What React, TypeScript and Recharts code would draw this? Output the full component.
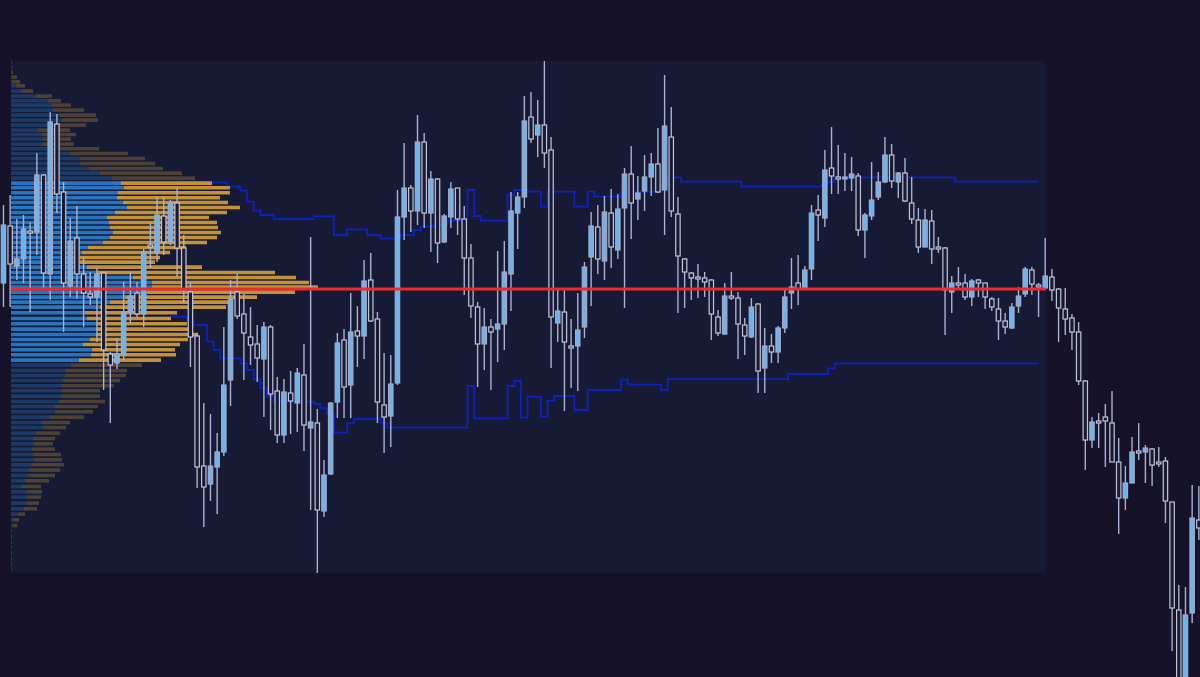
import { ComposedChart, BarChart, Bar, Line, XAxis, YAxis, ReferenceArea, ReferenceLine, Cell } from "recharts";

const W = 1200;
const H = 677;

// candle OHLC, one entry per bar
const opens = [
  517, 574, 534, 541, 569, 568, 625, 526, 676, 608,
  514, 562, 526, 506, 503, 527, 446, 437, 445, 488,
  507, 486, 555, 547, 584, 558, 597, 552, 508, 464,
  334, 316, 333, 348, 420, 508, 486, 463, 456, 441,
  473, 409, 365, 407, 397, 425, 372, 377, 289, 326,
  398, 460, 415, 469, 464, 520, 481, 395, 384, 417,
  583, 612, 589, 658, 587, 621, 558, 583, 612, 581,
  542, 493, 456, 473, 471, 476, 526, 587, 603, 683,
  665, 675, 650, 477, 488, 454, 454, 473, 543, 573,
  539, 587, 550, 592, 626, 601, 609, 623, 636, 610,
  663, 586, 541, 527, 523, 522, 520, 483, 466, 504,
  502, 475, 463, 496, 432, 454, 448, 472, 507, 517,
  511, 531, 590, 582, 632, 623, 622, 622, 624, 570,
  584, 603, 618, 645, 618, 627, 597, 580, 553, 579,
  553, 552, 508, 517, 517, 503, 520, 517, 501, 491,
  479, 472, 494, 506, 530, 515, 512, 523, 511, 491,
  482, 468, 419, 360, 379, 383, 377, 338, 302, 317,
  349, 348, 351, 338, 339, 298, 190, 90, 187, 280,
];
const closes = [
  575, 536, 541, 571, 567, 625, 527, 678, 606, 517,
  559, 526, 507, 503, 526, 450, 435, 446, 488, 504,
  486, 548, 554, 585, 558, 597, 552, 511, 463, 333,
  313, 334, 348, 415, 501, 484, 467, 455, 442, 473,
  406, 365, 408, 399, 427, 375, 378, 290, 325, 397,
  457, 413, 468, 464, 519, 479, 398, 383, 416, 583,
  612, 589, 658, 587, 621, 557, 584, 611, 581, 542,
  494, 456, 473, 468, 476, 528, 589, 603, 679, 661,
  675, 647, 483, 489, 458, 453, 470, 533, 574, 541,
  588, 553, 591, 626, 597, 607, 623, 636, 608, 674,
  589, 544, 528, 522, 522, 518, 486, 467, 504, 503,
  476, 464, 493, 429, 454, 448, 472, 503, 513, 511,
  530, 587, 585, 630, 624, 622, 623, 626, 570, 585,
  600, 618, 645, 619, 627, 599, 581, 553, 580, 551,
  552, 510, 517, 516, 503, 519, 517, 503, 493, 479,
  473, 493, 504, 531, 516, 513, 524, 510, 492, 481,
  468, 419, 360, 378, 378, 379, 338, 302, 317, 348,
  348, 352, 335, 337, 299, 192, 100, 185, 282, 272,
];
const highs = [
  595, 605, 581, 585, 578, 647, 626, 688, 686, 618,
  582, 594, 542, 528, 532, 529, 448, 462, 518, 528,
  518, 551, 577, 603, 603, 600, 612, 565, 518, 467,
  397, 386, 367, 473, 520, 526, 506, 493, 475, 478,
  475, 423, 421, 429, 432, 456, 563, 391, 340, 398,
  467, 471, 507, 494, 540, 547, 488, 447, 445, 610,
  657, 615, 685, 667, 629, 622, 586, 618, 612, 594,
  556, 498, 492, 481, 549, 559, 608, 608, 704, 708,
  700, 739, 663, 512, 512, 481, 507, 538, 588, 595,
  604, 611, 606, 632, 654, 624, 645, 647, 672, 725,
  693, 603, 542, 528, 536, 528, 521, 490, 517, 528,
  508, 482, 502, 497, 472, 466, 474, 510, 542, 545,
  534, 595, 605, 650, 673, 655, 647, 643, 627, 587,
  638, 628, 663, 656, 628, 642, 623, 592, 591, 590,
  563, 553, 524, 533, 526, 521, 521, 517, 503, 502,
  487, 497, 513, 533, 533, 517, 562, 531, 512, 512,
  486, 478, 420, 383, 387, 396, 409, 362, 334, 363,
  377, 355, 352, 353, 343, 298, 215, 213, 315, 314,
];
const lows = [
  493, 493, 520, 517, 488, 545, 510, 500, 587, 468,
  503, 501, 473, 495, 458, 410, 377, 431, 440, 477,
  483, 473, 532, 538, 545, 555, 523, 497, 433, 312,
  273, 299, 286, 344, 394, 481, 420, 435, 418, 383,
  370, 357, 357, 366, 368, 349, 290, 227, 283, 325,
  382, 382, 382, 433, 441, 478, 377, 347, 353, 415,
  560, 568, 575, 572, 548, 537, 557, 572, 565, 505,
  482, 413, 430, 410, 438, 450, 489, 551, 592, 657,
  643, 632, 432, 458, 389, 412, 409, 462, 494, 526,
  520, 532, 541, 492, 561, 580, 589, 604, 607, 565,
  583, 487, 492, 500, 502, 503, 460, 464, 465, 500,
  441, 445, 462, 407, 407, 437, 437, 467, 491, 495,
  510, 520, 559, 573, 606, 606, 609, 609, 564, 542,
  580, 600, 617, 612, 602, 598, 576, 547, 553, 536,
  547, 465, 487, 510, 500, 494, 503, 491, 489, 460,
  466, 471, 487, 503, 505, 483, 510, 499, 458, 465,
  450, 415, 330, 352, 352, 333, 338, 266, 290, 317,
  340, 317, 314, 333, 277, 149, 80, 80, 177, 260,
];

// developing value area high / low: [first bar, level]
const vahSteps = [
  [26, 617.5], [34, 613.3], [36, 609.3], [37, 598.3], [38, 589.3], [39, 585], [41, 581],
  [47, 583.7], [50, 565], [52, 570.7], [55, 565], [57, 561.5], [60, 565], [62, 570],
  [63, 573.3], [65, 575], [67, 579.3], [69, 580.7], [70, 610], [71, 584], [72, 579.3],
  [76, 605], [77, 610], [79, 608.3], [81, 593.3], [82, 608.3], [86, 593.3], [88, 608.3],
  [89, 603.3], [93, 608.3], [99, 615], [100, 622.7], [102, 618.3], [111, 613.3],
  [123, 615.7], [124, 618.3], [125, 622.7], [143, 618.3],
];
const valSteps = [
  [25, 483.3], [28, 480], [29, 475], [31, 458.3], [32, 450], [33, 441.7], [36, 436.7],
  [37, 430], [38, 420.7], [39, 411.7], [40, 404], [41, 398.3], [47, 396], [48, 391.7],
  [49, 385.7], [50, 367.3], [52, 376.7], [53, 381], [57, 377.3], [58, 372.3], [70, 414],
  [71, 381.7], [76, 414], [77, 419], [78, 382.3], [79, 403.3], [81, 383.3], [82, 399.3],
  [83, 404], [86, 390], [88, 410], [93, 420.5], [94, 415.3], [99, 410], [100, 420.8],
  [118, 426], [124, 431.7], [125, 436.7],
];
const stepEnd = 155;

// session box and point of control
const sessionStart = 1.15;
const sessionEnd = 156.1;
const sessionHigh = 739;
const sessionLow = 227;
const poc = 511;
const vaHigh = 618.3;
const vaLow = 436.7;

// volume profile rows (price level, buy volume, sell volume)
const profilePrice = [
  737.7, 732.7, 727.7, 722.7, 718, 714, 708.7, 703.7, 699, 694.7,
  689.7, 684.7, 679.7, 674.7, 669.7, 665.3, 660.7, 655.7, 651, 646.3,
  641.3, 636.3, 631.3, 626.7, 621.7, 616.7, 612, 607, 602, 597.3,
  592.3, 587.3, 582.3, 577.3, 572.3, 567.3, 562.3, 557.3, 552.3, 547.3,
  542.3, 537.7, 532.7, 527.3, 522.3, 517.3, 512.7, 507.7, 502.7, 497.7,
  492.7, 487, 481.3, 476, 470.7, 465.3, 460.3, 455.3, 450, 445,
  439.7, 434.7, 429.3, 424.3, 419.3, 414, 409, 403.7, 398.3, 393.3,
  388, 382.7, 377.3, 372.3, 366.7, 361.3, 356, 350.7, 345.3, 340,
  335, 329.7, 324.3, 319, 313.3, 308, 302.7, 296.7, 291, 285.7,
  280, 274.3, 269, 263.3, 257.7, 252.7, 246.7, 241, 236, 230.7,
];
const profileBuy = [
  1, 1, 1, 1, 1, 5, 10, 25, 37, 41,
  42, 49, 51, 47, 27, 31, 32, 31, 39, 59,
  69, 69, 78, 89, 101, 110, 113, 107, 106, 112,
  116, 104, 96, 98, 99, 102, 99, 92, 77, 71,
  69, 69, 76, 86, 122, 141, 141, 136, 114, 99,
  89, 74, 76, 86, 86, 86, 79, 72, 81, 80,
  68, 60, 55, 54, 51, 50, 51, 50, 48, 44,
  44, 39, 31, 32, 25, 22, 23, 21, 22, 23,
  20, 18, 17, 14, 10, 16, 16, 16, 13, 7,
  2, 2, 1, 1, 1, 1, 1, 1, 1, 1,
];
const profileSell = [
  0, 0, 1, 5, 8, 9, 12, 16, 13, 19,
  31, 36, 36, 28, 32, 34, 28, 32, 49, 58,
  65, 75, 74, 82, 83, 91, 106, 112, 103, 105,
  113, 112, 102, 108, 108, 108, 107, 104, 98, 88,
  80, 75, 115, 178, 163, 157, 166, 148, 132, 123,
  126, 92, 84, 90, 93, 101, 98, 97, 83, 85,
  82, 71, 61, 61, 58, 53, 38, 39, 46, 43,
  38, 34, 28, 23, 24, 22, 19, 23, 28, 28,
  33, 31, 27, 24, 20, 15, 14, 12, 13, 7,
  6, 4, 0, 0, 0, 0, 0, 0, 0, 0,
];

const stepAt = (steps: number[][], i: number) => {
  if (i < steps[0][0] || i > stepEnd) return null;
  let v = steps[0][1];
  for (const [start, level] of steps) if (i >= start) v = level;
  return v;
};

const bars = opens.map((o, i) => ({
  i,
  open: o,
  high: highs[i],
  low: lows[i],
  close: closes[i],
  vah: stepAt(vahSteps, i),
  val: stepAt(valSteps, i),
}));

const rows = profilePrice.map((p, k) => ({
  price: p,
  buy: profileBuy[k],
  sell: profileSell[k],
  inVA: p <= vaHigh && p >= vaLow,
}));

const X_DOMAIN: [number, number] = [-0.494, 179.2];
const Y_DOMAIN: [number, number] = [123, 800];

function Candle(props: any) {
  const { x, y, width, height, payload } = props;
  if (!payload) return null;
  const { open, close, high, low } = payload;
  const top = Math.min(y, y + height);
  const h = Math.abs(height);
  const py = (v: number) => top + ((high - v) / (high - low)) * h;
  const cx = x + width / 2;
  const up = close >= open;
  const bTop = py(Math.max(open, close));
  const bBot = py(Math.min(open, close));
  return (
    <g>
      <line x1={cx} x2={cx} y1={top} y2={top + h} stroke="#a9b1d4" strokeWidth={1.4} />
      <rect
        x={cx - 2.2}
        y={bTop}
        width={4.4}
        height={Math.max(bBot - bTop, 2)}
        fill={up ? "#6eb3ee" : "#191b35"}
        stroke={up ? "#a4aac4" : "#c3c6d8"}
        strokeWidth={1.2}
      />
    </g>
  );
}

export default function App() {
  const layer = { position: "absolute" as const, left: 0, top: 0 };
  return (
    <div style={{ position: "relative", width: W, height: H, background: "#161229", overflow: "hidden" }}>
      <style>{`body{margin:0;background:#161229}`}</style>

      <div style={layer}>
        <ComposedChart width={W} height={H} data={bars} margin={{ top: 0, right: 0, bottom: 0, left: 0 }}>
          <XAxis dataKey="i" type="number" domain={X_DOMAIN} allowDataOverflow hide />
          <YAxis type="number" domain={Y_DOMAIN} allowDataOverflow hide />
          <ReferenceArea
            x1={sessionStart}
            x2={sessionEnd}
            y1={sessionLow}
            y2={sessionHigh}
            fill="#171a34"
            fillOpacity={1}
            stroke="none"
          />
          <Line type="step" dataKey="vah" stroke="#0e20c0" strokeWidth={1.8} dot={false} isAnimationActive={false} />
          <Line type="step" dataKey="val" stroke="#0e20c0" strokeWidth={1.8} dot={false} isAnimationActive={false} />
        </ComposedChart>
      </div>

      <div style={layer}>
        <BarChart
          layout="vertical"
          width={W}
          height={H}
          data={rows}
          margin={{ top: 0, right: 0, bottom: 0, left: 11 }}
        >
          <XAxis type="number" domain={[0, 1189]} allowDataOverflow hide />
          <YAxis type="number" dataKey="price" domain={Y_DOMAIN} allowDataOverflow reversed hide />
          <Bar dataKey="buy" stackId="p" barSize={4} isAnimationActive={false}>
            {rows.map((r, k) => (
              <Cell key={k} fill={r.inVA ? "#2875bf" : "#1d3a66"} />
            ))}
          </Bar>
          <Bar dataKey="sell" stackId="p" barSize={4} isAnimationActive={false}>
            {rows.map((r, k) => (
              <Cell key={k} fill={r.inVA ? "#c39238" : "#4c4137"} />
            ))}
          </Bar>
        </BarChart>
      </div>

      <div style={layer}>
        <ComposedChart width={W} height={H} data={bars} margin={{ top: 0, right: 0, bottom: 0, left: 0 }}>
          <XAxis dataKey="i" type="number" domain={X_DOMAIN} allowDataOverflow hide />
          <YAxis type="number" domain={Y_DOMAIN} allowDataOverflow hide />
          <Bar
            dataKey={(d: any) => [d.low, d.high]}
            barSize={5}
            shape={(p: any) => <Candle {...p} />}
            isAnimationActive={false}
          />
          <ReferenceLine
            segment={[
              { x: sessionStart, y: poc },
              { x: sessionEnd, y: poc },
            ]}
            stroke="#f0292b"
            strokeWidth={3}
          />
        </ComposedChart>
      </div>
    </div>
  );
}
